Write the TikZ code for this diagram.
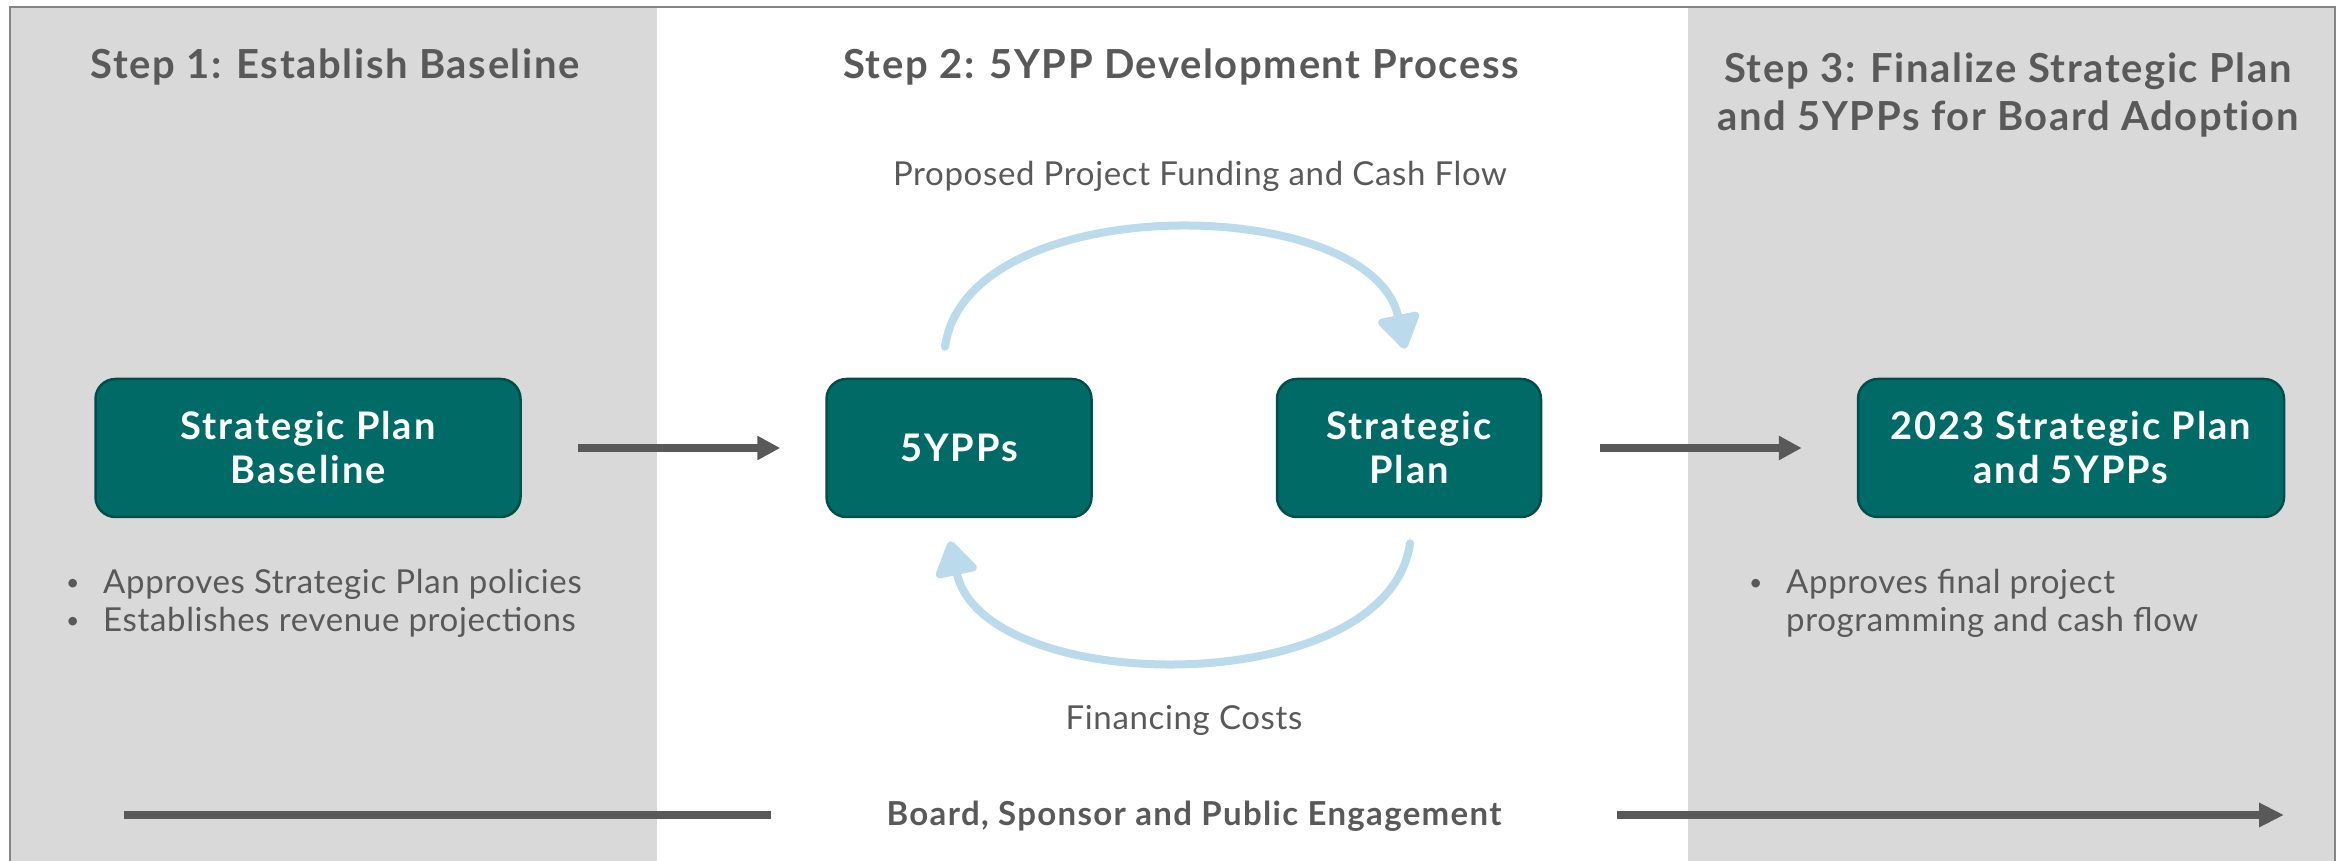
\documentclass[tikz,border=0pt]{standalone}
\usepackage{fontspec}
\setmainfont{Lato}
\newfontfamily\headfont{Lato}[LetterSpace=4,Ligatures=NoCommon]
\newfontfamily\boxfont{Lato}[LetterSpace=5,Ligatures=NoCommon]
\newfontfamily\notefont{Lato}[LetterSpace=2]
\usetikzlibrary{arrows.meta}

\definecolor{panelgray}{HTML}{D9D9D9}
\definecolor{framegray}{HTML}{858585}
\definecolor{textgray}{HTML}{595959}
\definecolor{boxteal}{HTML}{006B66}
\definecolor{boxedge}{HTML}{004E4A}
\definecolor{arcblue}{HTML}{BBDAEB}

\newcommand{\notebullet}{\makebox[37pt][l]{\raisebox{3.5pt}{\fontsize{23}{23}\selectfont •}}}

\tikzset{
  steptitle/.style={text=textgray, align=center, inner sep=0pt,
    font=\headfont\bfseries\fontsize{40}{48}\selectfont},
  planbox/.style={draw=boxedge, line width=2.5pt, fill=boxteal, text=white,
    rounded corners=20pt, align=center, inner sep=0pt, minimum height=138pt,
    font=\boxfont\bfseries\fontsize{38}{44}\selectfont},
  note/.style={text=textgray, inner sep=0pt, anchor=base west,
    font=\notefont\fontsize{33}{38}\selectfont},
  flowlabel/.style={text=textgray, inner sep=0pt, anchor=base,
    font=\notefont\fontsize{33}{38}\selectfont},
  engagelabel/.style={text=textgray, inner sep=0pt, anchor=base,
    font=\headfont\bfseries\fontsize{33}{40}\selectfont},
  steparrow/.style={draw=textgray, line width=8pt,
    -{Triangle[length=23pt,width=23pt]}},
  cyclearrow/.style={draw=arcblue, line width=8pt, line cap=round,
    -{Triangle[length=38pt,width=46pt,round]}},
  barline/.style={draw=textgray, line width=8pt}
}

\begin{document}
\begin{tikzpicture}[x=1pt,y=1pt]
    \useasboundingbox (0,0) rectangle (2348,860);

    % Step panels
    \fill[panelgray] (10,-20) rectangle (657,853);
    \fill[panelgray] (1688,-20) rectangle (2335,853);
    \draw[framegray, line width=2pt] (10,-20) rectangle (2335,853);

    % Titles
    \node[steptitle, anchor=base] (title1) at (335,781) {Step 1: Establish Baseline};
    \node[steptitle, anchor=base] (title2) at (1181,781) {Step 2: 5YPP Development Process};
    \node[steptitle] (title3) at (2008,765) {Step 3: Finalize Strategic Plan\\and 5YPPs for Board Adoption};

    % Plan boxes
    \node[planbox, minimum width=425pt] (base) at (308,412) {Strategic Plan\\Baseline};
    \node[planbox, minimum width=265pt] (yp) at (959,412) {5YPPs};
    \node[planbox, minimum width=264pt] (plan) at (1409,412) {Strategic\\Plan};
    \node[planbox, minimum width=426pt] (final) at (2071,412) {2023 Strategic Plan\\and 5YPPs};

    % Step arrows
    \draw[steparrow, shorten <=56pt, shorten >=45pt] (base) -- (yp);
    \draw[steparrow, shorten <=58pt, shorten >=55pt] (plan) -- (final);

    % Development cycle
    \draw[cyclearrow] ([xshift=-14pt,yshift=31pt]yp.north) to[out=82,in=102,distance=160pt] ([xshift=-4pt,yshift=29pt]plan.north);
    \draw[cyclearrow] ([xshift=1pt,yshift=-25pt]plan.south) to[out=-98,in=-78,distance=160pt] ([xshift=-9pt,yshift=-23pt]yp.south);
    \node[flowlabel] (fundlbl) at (1200,674) {Proposed Project Funding and Cash Flow};
    \node[flowlabel] (costlbl) at (1184,131) {Financing Costs};

    % Notes
    \node[note] (basenote) at (66,266) {\begin{tabular}[t]{@{}l@{}}
      \notebullet Approves Strategic Plan policies\\
      \notebullet Establishes revenue projections
    \end{tabular}};
    \node[note] (finalnote) at (1749,266) {\begin{tabular}[t]{@{}l@{}}
      \notebullet Approves final project\\
      \hspace*{37pt}programming and cash flow
    \end{tabular}};

    % Engagement
    \node[engagelabel] (engage) at (1194,35) {Board, Sponsor and Public Engagement};
    \coordinate (lstart) at (124,45);
    \coordinate (lend) at (771,45);
    \coordinate (rstart) at (1617,45);
    \coordinate (rend) at (2284,45);
    \draw[barline] (lstart) -- (lend);
    \draw[barline, -{Triangle[length=25pt,width=23pt]}] (rstart) -- (rend);
\end{tikzpicture}
\end{document}
